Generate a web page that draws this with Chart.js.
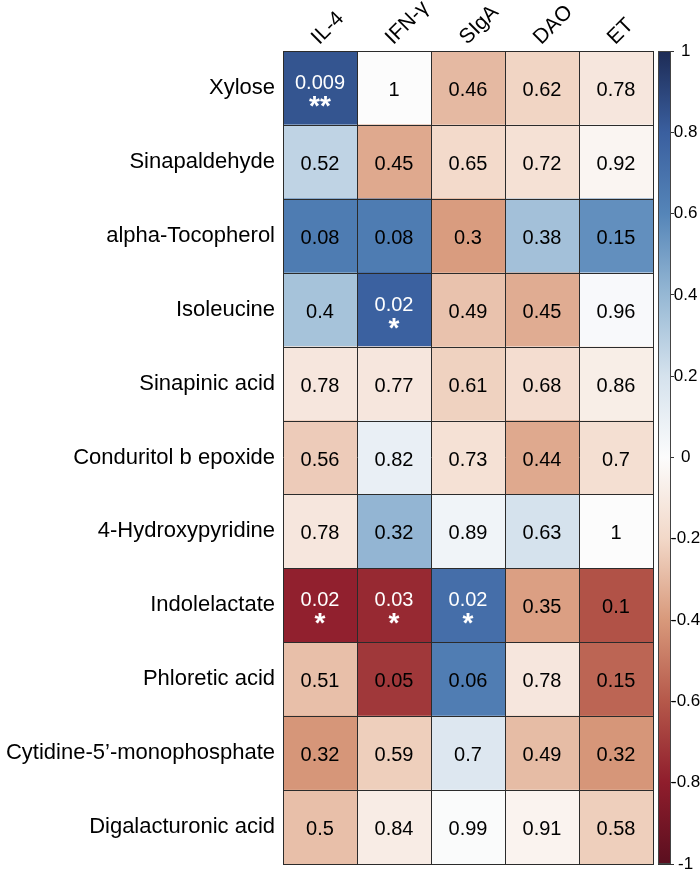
<!DOCTYPE html>
<html>
<head>
<meta charset="utf-8">
<script src="https://cdn.jsdelivr.net/npm/chart.js@4.4.1/dist/chart.umd.min.js"></script>
<style>
  html, body { margin: 0; padding: 0; background: #ffffff; }
  canvas { display: block; }
</style>
</head>
<body>
<canvas id="heat" width="700" height="873" style="width:700px;height:873px"></canvas>
<script>
// ---------------- data ----------------
const rows = ['Xylose', 'Sinapaldehyde', 'alpha-Tocopherol', 'Isoleucine', 'Sinapinic acid',
  'Conduritol b epoxide', '4-Hydroxypyridine', 'Indolelactate', 'Phloretic acid',
  'Cytidine-5\u2019-monophosphate', 'Digalacturonic acid'];
const columns = ['IL-4', 'IFN-\u03b3', 'SIgA', 'DAO', 'ET'];

// correlation coefficients (colour)
const rIL4 = [0.84, 0.27, 0.65, 0.35, -0.12, -0.24, -0.12, -0.79, -0.28, -0.41, -0.28];
const rIFN = [0.00, -0.35, 0.65, 0.79, -0.12, 0.10, 0.41, -0.76, -0.71, -0.23, -0.09];
const rSIgA = [-0.30, -0.19, -0.39, -0.27, -0.22, -0.15, 0.06, 0.72, 0.64, 0.16, 0.01];
const rDAO = [-0.21, -0.15, 0.36, -0.34, -0.17, -0.35, 0.20, -0.38, -0.12, -0.29, -0.05];
const rET = [-0.12, -0.04, 0.56, 0.02, -0.08, -0.16, 0.00, -0.62, -0.56, -0.41, -0.23];

// p-values printed in the cells
const pIL4 = ['0.009', '0.52', '0.08', '0.4', '0.78', '0.56', '0.78', '0.02', '0.51', '0.32', '0.5'];
const pIFN = ['1', '0.45', '0.08', '0.02', '0.77', '0.82', '0.32', '0.03', '0.05', '0.59', '0.84'];
const pSIgA = ['0.46', '0.65', '0.3', '0.49', '0.61', '0.73', '0.89', '0.02', '0.06', '0.7', '0.99'];
const pDAO = ['0.62', '0.72', '0.38', '0.45', '0.68', '0.44', '0.63', '0.35', '0.78', '0.49', '0.91'];
const pET = ['0.78', '0.92', '0.15', '0.96', '0.86', '0.7', '1', '0.1', '0.15', '0.32', '0.58'];

// colour-bar tick labels
const legendTicks = [-1, -0.8, -0.6, -0.4, -0.2, 0, 0.2, 0.4, 0.6, 0.8, 1];

// ---------------- styling ----------------
const FONT = "'Liberation Sans', Arial, Helvetica, sans-serif";
const rampStops = [
  [-1.0, '#5a0f1f'], [-0.8, '#8f1d2c'], [-0.6, '#b5584a'], [-0.4, '#d8997b'], [-0.2, '#f2d8c8'],
  [0.0, '#fcfcfc'], [0.2, '#d5e2ed'], [0.4, '#96b8d4'], [0.6, '#5585b8'], [0.8, '#3a5f9f'], [1.0, '#1d2b55']
];
function hex2rgb(h) { return [1, 3, 5].map(i => parseInt(h.substr(i, 2), 16)); }
function colorFor(v) {
  for (let i = 0; i < rampStops.length - 1; i++) {
    const [a, ca] = rampStops[i], [b, cb] = rampStops[i + 1];
    if (v >= a && v <= b) {
      const t = (v - a) / (b - a);
      const A = hex2rgb(ca), B = hex2rgb(cb);
      return 'rgb(' + A.map((x, k) => Math.round(x + (B[k] - x) * t)).join(',') + ')';
    }
  }
  return v < 0 ? rampStops[0][1] : rampStops[rampStops.length - 1][1];
}

const rCols = [rIL4, rIFN, rSIgA, rDAO, rET];
const pCols = [pIL4, pIFN, pSIgA, pDAO, pET];

const datasets = columns.map((name, ci) => ({
  label: name,
  data: rows.map(() => [ci, ci + 1]),
  backgroundColor: rCols[ci].map(colorFor),
  borderWidth: 0,
  grouped: false,
  barPercentage: 1,
  categoryPercentage: 1
}));

// grid lines between cells
const cellLines = {
  id: 'cellLines',
  afterDatasetsDraw(chart) {
    const { ctx, chartArea, scales: { x, y } } = chart;
    const half = (y.getPixelForValue(1) - y.getPixelForValue(0)) / 2;
    ctx.save();
    ctx.strokeStyle = '#2b2b2b';
    ctx.lineWidth = 1;
    ctx.beginPath();
    for (let c = 0; c <= columns.length; c++) {
      const px = Math.round(x.getPixelForValue(c)) + 0.5;
      ctx.moveTo(px, chartArea.top); ctx.lineTo(px, chartArea.bottom);
    }
    for (let r = 0; r <= rows.length; r++) {
      const py = Math.round(y.getPixelForValue(r) - half) + 0.5;
      ctx.moveTo(x.getPixelForValue(0), py); ctx.lineTo(x.getPixelForValue(columns.length), py);
    }
    ctx.stroke();
    ctx.restore();
  }
};

// p-values and significance stars
const cellText = {
  id: 'cellText',
  afterDatasetsDraw(chart) {
    const { ctx } = chart;
    ctx.save();
    ctx.textAlign = 'center';
    ctx.textBaseline = 'alphabetic';
    chart.data.datasets.forEach((ds, ci) => {
      const meta = chart.getDatasetMeta(ci);
      meta.data.forEach((el, ri) => {
        const cx = (el.x + el.base) / 2;
        const cy = el.y;
        const ptxt = pCols[ci][ri];
        const p = parseFloat(ptxt);
        const stars = p < 0.01 ? '**' : (p < 0.05 ? '*' : '');
        ctx.font = '20px ' + FONT;
        if (stars) {
          ctx.fillStyle = '#ffffff';
          ctx.fillText(ptxt, cx, cy + 1);
          ctx.font = 'bold 28px ' + FONT;
          ctx.fillText(stars, cx, cy + 27);
        } else {
          ctx.fillStyle = '#000000';
          ctx.fillText(ptxt, cx, cy + 8);
        }
      });
    });
    ctx.restore();
  }
};

// colour bar drawn next to the y2 scale
const colorBar = {
  id: 'colorBar',
  afterDraw(chart) {
    const { ctx, chartArea } = chart;
    const s = chart.scales.y2;
    const top = s.getPixelForValue(1), bot = s.getPixelForValue(-1);
    const x0 = chartArea.right + 5, w = 13;
    ctx.save();
    ctx.fillStyle = '#ffffff';
    ctx.fillRect(chartArea.right + 1, top - 2, x0 - chartArea.right - 1, bot - top + 4);
    const g = ctx.createLinearGradient(0, top, 0, bot);
    rampStops.forEach(([v, c]) => g.addColorStop((1 - v) / 2, c));
    ctx.fillStyle = g;
    ctx.fillRect(x0, top, w, bot - top);
    ctx.strokeStyle = '#444444';
    ctx.lineWidth = 1;
    ctx.strokeRect(x0 + 0.5, top + 0.5, w - 1, bot - top - 1);
    ctx.restore();
  }
};

new Chart(document.getElementById('heat'), {
  type: 'bar',
  data: { labels: rows, datasets },
  options: {
    indexAxis: 'y',
    responsive: false,
    animation: false,
    devicePixelRatio: 1,
    layout: { padding: { top: 0, bottom: 9, left: 0, right: 0 } },
    plugins: { legend: { display: false }, tooltip: { enabled: false } },
    scales: {
      x: {
        type: 'linear', position: 'top', min: 0, max: columns.length,
        afterBuildTicks: s => { s.ticks = columns.map((c, i) => ({ value: i + 0.5 })); },
        afterFit: s => { s.height = 51; s.paddingLeft = 0; s.paddingRight = 0; },
        ticks: {
          autoSkip: false, minRotation: 45, maxRotation: 45, padding: 1, labelOffset: 13, color: '#000000',
          font: { family: FONT, size: 21 },
          callback: (v, i) => columns[i]
        },
        grid: { display: false, drawTicks: false },
        border: { display: false }
      },
      y: {
        type: 'category', position: 'left', offset: true,
        afterFit: s => { s.width = 283; s.paddingTop = 0; s.paddingBottom = 0; },
        ticks: { autoSkip: false, padding: 8, color: '#000000', font: { family: FONT, size: 22 } },
        grid: { display: false, drawTicks: false },
        border: { display: false }
      },
      y2: {
        type: 'linear', position: 'right', min: -1, max: 1, offset: false,
        afterBuildTicks: s => { s.ticks = legendTicks.map(v => ({ value: v })); },
        afterFit: s => { s.width = 47; s.paddingTop = 0; s.paddingBottom = 0; },
        ticks: {
          autoSkip: false, crossAlign: 'center', padding: -3, color: '#000000',
          font: { family: FONT, size: 17 },
          callback: v => String(v)
        },
        grid: { offset: false, drawOnChartArea: false, drawTicks: true, tickLength: 21, color: '#333333', tickColor: '#333333', lineWidth: 1 },
        border: { display: false }
      }
    }
  },
  plugins: [cellLines, cellText, colorBar]
});
</script>
</body>
</html>
